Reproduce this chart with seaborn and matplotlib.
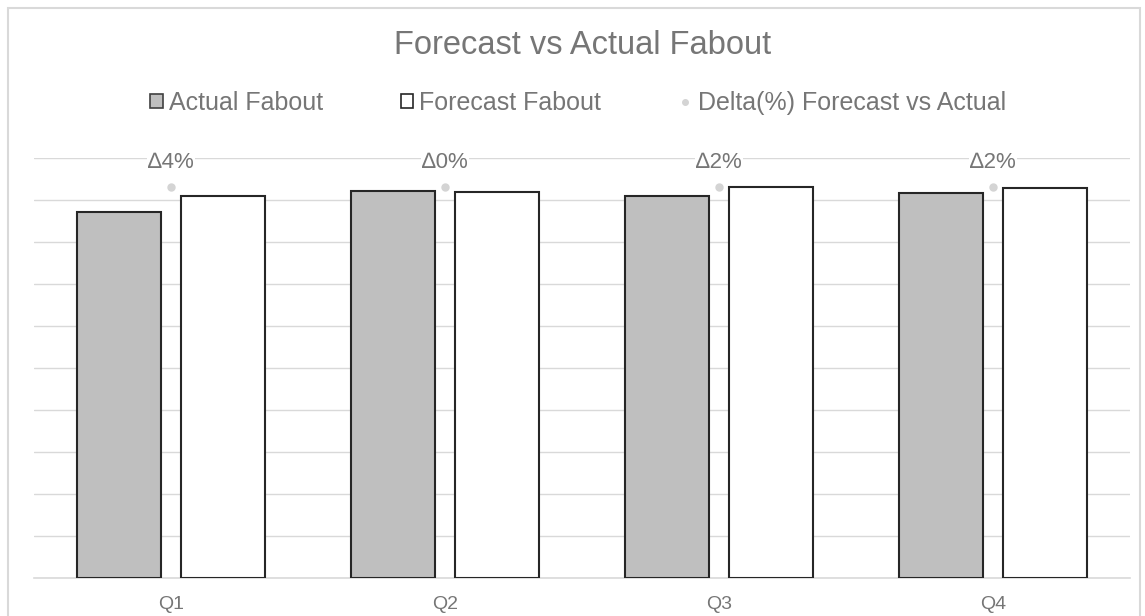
import matplotlib
matplotlib.use('Agg')
import matplotlib.pyplot as plt
import seaborn as sns
import pandas as pd
from matplotlib.patches import Patch, Rectangle
from matplotlib.lines import Line2D

# Data (units of the hidden y axis, gridline = 1)
quarters = ['Q1', 'Q2', 'Q3', 'Q4']
actual_fabout = [8.72, 9.21, 9.10, 9.16]
forecast_fabout = [9.10, 9.20, 9.30, 9.29]
delta_labels = ['\u22064%', '\u22060%', '\u22062%', '\u22062%']
delta_level = [9.31, 9.31, 9.31, 9.31]

series_names = ['Actual Fabout', 'Forecast Fabout']
df = pd.DataFrame({
    'quarter': quarters * 2,
    'series': [series_names[0]] * 4 + [series_names[1]] * 4,
    'value': actual_fabout + forecast_fabout,
})

sns.set_style('white')
plt.rcParams['font.family'] = ['Liberation Sans', 'DejaVu Sans']
text_grey = '#767676'
grid_grey = '#d9d9d9'

fig = plt.figure(figsize=(11.45, 6.16), dpi=100)
ax = fig.add_axes([34 / 1145, 1 - 578 / 616, 1096 / 1145, 420 / 616])

sns.barplot(data=df, x='quarter', y='value', hue='series',
            palette={series_names[0]: '#bfbfbf', series_names[1]: '#ffffff'},
            edgecolor='#262626', linewidth=1.5, width=0.76, gap=0.19,
            ax=ax, legend=False, zorder=3)

sns.pointplot(x=quarters, y=delta_level, ax=ax, color='#d4d4d4',
              linestyle='none', marker='o', markersize=4, errorbar=None,
              zorder=4)

for i, lab in enumerate(delta_labels):
    ax.annotate(lab, (i, delta_level[i]), xytext=(0, 17.5), textcoords='offset points',
                ha='center', va='center', fontsize=16, color=text_grey,
                annotation_clip=False, zorder=5,
                bbox=dict(facecolor='white', edgecolor='none', pad=1))

ax.set_xlim(-0.5, 3.5)
ax.set_ylim(0, 10)
ax.set_yticks(range(0, 11))
ax.set_yticklabels([])
ax.grid(axis='y', color=grid_grey, linewidth=1, zorder=0)
ax.set_axisbelow(True)
for s in ['left', 'right', 'top']:
    ax.spines[s].set_visible(False)
ax.spines['bottom'].set_color(grid_grey)
ax.spines['bottom'].set_linewidth(1.2)
ax.tick_params(axis='x', length=0, pad=13, labelsize=14, labelcolor=text_grey)
ax.tick_params(axis='y', length=0)
ax.set_xlabel('')
ax.set_ylabel('')

fig.text(583 / 1145, 1 - 46 / 616, 'Forecast vs Actual Fabout', ha='center', va='center',
         fontsize=23.5, color=text_grey)

handles = [
    Patch(facecolor='#bfbfbf', edgecolor='#404040', linewidth=1.2),
    Patch(facecolor='white', edgecolor='#262626', linewidth=1.2),
    Line2D([], [], linestyle='none', marker='o', markersize=4, color='#d4d4d4'),
]
fig.legend(handles, series_names + ['Delta(%) Forecast vs Actual'],
           loc='center', bbox_to_anchor=(578 / 1145, 1 - 103 / 616), ncol=3,
           frameon=False, fontsize=18, labelcolor=text_grey,
           handlelength=0.5, handleheight=0.5, handletextpad=0.25,
           columnspacing=3.1)

fig.patches.append(Rectangle((8 / 1145, -0.1), 1 - 13 / 1145, 1.1 - 8 / 616,
                             transform=fig.transFigure, fill=False,
                             edgecolor=grid_grey, linewidth=1.5))

fig.savefig('out.png', dpi=100)
